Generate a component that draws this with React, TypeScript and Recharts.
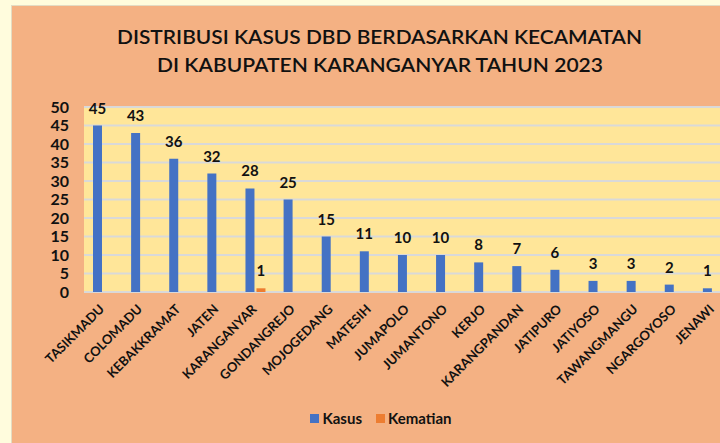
import { BarChart, Bar, XAxis, YAxis, CartesianGrid, Legend, LabelList } from 'recharts'

const kecamatan = [
  'TASIKMADU', 'COLOMADU', 'KEBAKKRAMAT', 'JATEN', 'KARANGANYAR', 'GONDANGREJO',
  'MOJOGEDANG', 'MATESIH', 'JUMAPOLO', 'JUMANTONO', 'KERJO', 'KARANGPANDAN',
  'JATIPURO', 'JATIYOSO', 'TAWANGMANGU', 'NGARGOYOSO', 'JENAWI',
]
const kasus = [45, 43, 36, 32, 28, 25, 15, 11, 10, 10, 8, 7, 6, 3, 3, 2, 1]
const kematian = [0, 0, 0, 0, 1, 0, 0, 0, 0, 0, 0, 0, 0, 0, 0, 0, 0]
const yTicks = [0, 5, 10, 15, 20, 25, 30, 35, 40, 45, 50]

const titleLines = ['DISTRIBUSI KASUS DBD BERDASARKAN KECAMATAN', 'DI KABUPATEN  KARANGANYAR TAHUN 2023']

const data = kecamatan.map((name, i) => ({ name, kasus: kasus[i], kematian: kematian[i] }))

const FONT = 'Lato, "Open Sans", sans-serif'

function AngledTick({ x, y, payload }: { x?: number; y?: number; payload?: { value: string } }) {
  const tx = (x ?? 0) + 2
  return (
    <text
      x={tx}
      y={y}
      transform={`rotate(-45, ${tx}, ${y})`}
      textAnchor="end"
      fontFamily={FONT}
      fontWeight={700}
      fontSize={13}
      fill="#111"
    >
      {payload?.value}
    </text>
  )
}

function ValueLabel(props: any) {
  const { x, y, width, value } = props
  if (!value) return null
  return (
    <text
      x={x + width / 2}
      y={y - 12}
      textAnchor="middle"
      fontFamily={FONT}
      fontWeight={700}
      fontSize={15}
      fill="#111"
    >
      {value}
    </text>
  )
}

function LegendBox() {
  const items = [
    { label: 'Kasus', color: '#4472C4' },
    { label: 'Kematian', color: '#ED7D31' },
  ]
  return (
    <div
      style={{
        height: 20,
        display: 'flex',
        justifyContent: 'center',
        alignItems: 'center',
        gap: 14,
        paddingLeft: 18,
        fontFamily: FONT,
        fontWeight: 700,
        fontSize: 15,
        color: '#111',
      }}
    >
      {items.map((it) => (
        <span key={it.label} style={{ display: 'flex', alignItems: 'center', gap: 3 }}>
          <span style={{ width: 9, height: 9, background: it.color, display: 'inline-block' }} />
          {it.label}
        </span>
      ))}
    </div>
  )
}

export default function App() {
  return (
    <div
      style={{
        position: 'fixed',
        left: 0,
        top: 0,
        width: 720,
        height: 443,
        overflow: 'hidden',
        background: '#FFFCDD',
      }}
    >
      <div
        style={{
          position: 'absolute',
          left: 11,
          top: 5,
          width: 760,
          height: 440,
          background: '#F4B183',
          borderLeft: '1px solid #E3DCC4',
          borderTop: '1px solid #E3DCC4',
        }}
      >
        <svg width={720} height={90} style={{ position: 'absolute', left: -12, top: -6 }}>
          <text
            x={379.5}
            y={44}
            textAnchor="middle"
            fontFamily={FONT}
            fontWeight={600}
            fontSize={20}
            fill="#111"
            textLength={525}
            lengthAdjust="spacingAndGlyphs"
          >
            {titleLines[0]}
          </text>
          <text
            x={380}
            y={72}
            textAnchor="middle"
            fontFamily={FONT}
            fontWeight={600}
            fontSize={20}
            fill="#111"
            textLength={446}
            lengthAdjust="spacingAndGlyphs"
          >
            {titleLines[1]}
          </text>
        </svg>
        <div style={{ position: 'absolute', left: 0, top: 0 }}>
          <BarChart
            width={730}
            height={437}
            data={data}
            margin={{ top: 101, right: 10, left: 0, bottom: 15 }}
            barSize={9}
            barGap={2}
          >
            <CartesianGrid vertical={false} stroke="#D9D9D9" strokeWidth={2} fill="#FFE699" />
            <XAxis
              dataKey="name"
              interval={0}
              axisLine={false}
              tickLine={false}
              tickMargin={12}
              height={116}
              tick={<AngledTick />}
            />
            <YAxis
              domain={[0, 50]}
              ticks={yTicks}
              interval={0}
              width={72}
              axisLine={false}
              tickLine={false}
              tickMargin={9}
              tick={{ fontFamily: FONT, fontWeight: 700, fontSize: 16, fill: '#111' }}
            />
            <Legend verticalAlign="bottom" content={<LegendBox />} />
            <Bar dataKey="kasus" name="Kasus" fill="#4472C4" isAnimationActive={false}>
              <LabelList dataKey="kasus" content={<ValueLabel />} />
            </Bar>
            <Bar dataKey="kematian" name="Kematian" fill="#ED7D31" isAnimationActive={false}>
              <LabelList dataKey="kematian" content={<ValueLabel />} />
            </Bar>
          </BarChart>
        </div>
      </div>
    </div>
  )
}
